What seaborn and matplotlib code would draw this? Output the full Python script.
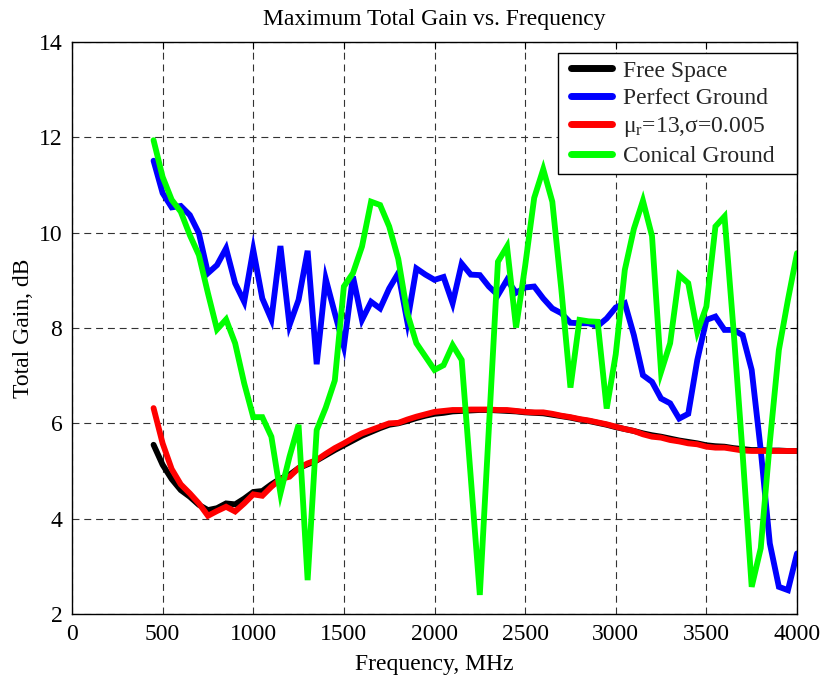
import matplotlib
matplotlib.use("Agg")
import matplotlib.pyplot as plt
from matplotlib.lines import Line2D
from matplotlib.legend_handler import HandlerLine2D
import numpy as np
import pandas as pd
import seaborn as sns

# ---------------- data ----------------
freq = [450, 500, 550, 600, 650, 700, 750, 800, 850, 900,
        950, 1000, 1050, 1100, 1150, 1200, 1250, 1300, 1350, 1400,
        1450, 1500, 1550, 1600, 1650, 1700, 1750, 1800, 1850, 1900,
        1950, 2000, 2050, 2100, 2150, 2200, 2250, 2300, 2350, 2400,
        2450, 2500, 2550, 2600, 2650, 2700, 2750, 2800, 2850, 2900,
        2950, 3000, 3050, 3100, 3150, 3200, 3250, 3300, 3350, 3400,
        3450, 3500, 3550, 3600, 3650, 3700, 3750, 3800, 3850, 3900,
        3950, 4000]

free_space = [5.55, 5.13, 4.83, 4.60, 4.46, 4.29, 4.18, 4.22, 4.32, 4.30,
              4.42, 4.56, 4.58, 4.72, 4.84, 4.92, 5.06, 5.14, 5.22, 5.33,
              5.44, 5.54, 5.64, 5.74, 5.82, 5.90, 5.97, 6.00, 6.05, 6.11,
              6.16, 6.20, 6.22, 6.25, 6.26, 6.27, 6.28, 6.28, 6.27, 6.26,
              6.25, 6.23, 6.22, 6.21, 6.18, 6.15, 6.12, 6.08, 6.05, 6.01,
              5.97, 5.92, 5.88, 5.84, 5.79, 5.75, 5.72, 5.68, 5.64, 5.61,
              5.58, 5.54, 5.52, 5.51, 5.48, 5.46, 5.44, 5.44, 5.43, 5.43,
              5.42, 5.42]

perfect_ground = [11.51, 10.83, 10.53, 10.56, 10.37, 9.99, 9.15, 9.32, 9.67, 8.94,
                  8.55, 9.64, 8.62, 8.18, 9.72, 8.06, 8.59, 9.62, 7.24, 9.03,
                  8.31, 7.61, 9.08, 8.17, 8.55, 8.41, 8.83, 9.15, 8.13, 9.25,
                  9.12, 9.01, 9.07, 8.52, 9.35, 9.12, 9.11, 8.87, 8.69, 9.01,
                  8.74, 8.85, 8.87, 8.62, 8.41, 8.31, 8.11, 8.10, 8.10, 8.04,
                  8.20, 8.43, 8.52, 7.85, 7.01, 6.87, 6.52, 6.42, 6.10, 6.20,
                  7.33, 8.17, 8.24, 7.96, 7.96, 7.85, 7.12, 5.44, 3.48, 2.57,
                  2.50, 3.27]

lossy_ground = [6.32, 5.58, 5.04, 4.72, 4.53, 4.32, 4.06, 4.16, 4.25, 4.15,
                4.32, 4.51, 4.48, 4.67, 4.83, 4.88, 5.06, 5.16, 5.23, 5.36,
                5.48, 5.58, 5.69, 5.79, 5.86, 5.93, 6.00, 6.01, 6.08, 6.14,
                6.19, 6.24, 6.26, 6.28, 6.28, 6.29, 6.29, 6.29, 6.28, 6.28,
                6.26, 6.24, 6.23, 6.23, 6.20, 6.16, 6.13, 6.09, 6.06, 6.02,
                5.98, 5.93, 5.88, 5.84, 5.77, 5.72, 5.70, 5.65, 5.62, 5.58,
                5.56, 5.51, 5.49, 5.49, 5.46, 5.43, 5.42, 5.42, 5.42, 5.42,
                5.42, 5.42]

conical_ground = [11.94, 11.17, 10.69, 10.44, 9.95, 9.53, 8.73, 7.97, 8.18, 7.68,
                  6.84, 6.13, 6.13, 5.72, 4.53, 5.30, 5.97, 2.71, 5.86, 6.33,
                  6.90, 8.87, 9.15, 9.71, 10.65, 10.58, 10.13, 9.45, 8.31, 7.68,
                  7.40, 7.12, 7.22, 7.64, 7.33, 4.87, 2.40, 5.90, 9.39, 9.71,
                  8.01, 9.30, 10.73, 11.33, 10.65, 8.80, 6.75, 8.17, 8.14, 8.13,
                  6.31, 7.45, 9.22, 10.08, 10.67, 9.93, 7.08, 7.68, 9.11, 8.94,
                  7.92, 8.45, 10.13, 10.34, 7.95, 5.36, 2.57, 3.38, 5.60, 7.54,
                  8.59, 9.57]

series_names = ["Free Space", "Perfect Ground",
                "μ$_\\mathrm{r}$=13,σ=0.005", "Conical Ground"]
series_values = [free_space, perfect_ground, lossy_ground, conical_ground]
series_colors = ["#000000", "#0000FF", "#FF0000", "#00FF00"]

x_ticks = [0, 500, 1000, 1500, 2000, 2500, 3000, 3500, 4000]
y_ticks = [2, 4, 6, 8, 10, 12, 14]

# ---------------- style ----------------
sns.set_theme(style="white")
plt.rcParams["font.family"] = ["Liberation Serif", "DejaVu Serif"]
plt.rcParams["mathtext.fontset"] = "custom"
plt.rcParams["mathtext.rm"] = "Liberation Serif"
plt.rcParams["mathtext.it"] = "Liberation Serif:italic"
plt.rcParams["lines.scale_dashes"] = False

FS = 17

fig = plt.figure(figsize=(8.23, 6.80), dpi=100)
W, H = 823, 680
AX_L, AX_R, AX_T, AX_B = 72, 797, 42, 614
ax = fig.add_axes([AX_L / W, 1 - AX_B / H, (AX_R - AX_L) / W, (AX_B - AX_T) / H])

for name, vals, col in zip(series_names, series_values, series_colors):
    df = pd.DataFrame({"freq": freq, "gain": vals})
    sns.lineplot(data=df, x="freq", y="gain", ax=ax, color=col,
                 linewidth=4.2, label=name, solid_joinstyle="miter")

ax.set_xlim(0, 4000)
ax.set_ylim(2, 14)
ax.set_xticks(x_ticks)
ax.set_yticks(y_ticks)
ax.set_xticklabels([str(t) for t in x_ticks])
ax.set_yticklabels([str(t) for t in y_ticks])

ax.grid(True, color="#333333", linestyle=(0, (5, 3.5)), linewidth=0.8)
ax.set_axisbelow(True)
ax.tick_params(direction="in", top=True, right=True, length=5, width=0.8,
               labelsize=FS, colors="black", pad=7)
for s in ax.spines.values():
    s.set_color("black")
    s.set_linewidth(1.0)

ax.set_title("Maximum Total Gain vs. Frequency", fontsize=FS, pad=12,
             color="black")
ax.set_xlabel("Frequency, MHz", fontsize=FS, color="black", labelpad=7)
ax.set_ylabel("Total Gain, dB", fontsize=FS, color="black", labelpad=3)

# legend box spanning x 558..797, top at y 53 (pixels)
aw, ah = AX_R - AX_L, AX_B - AX_T
leg_x0 = (558 - AX_L) / aw
leg_w = (797 - 558) / aw
leg_top = 1 - (53 - AX_T) / ah
leg = ax.legend(loc="upper left", bbox_to_anchor=(leg_x0, leg_top - 0.3, leg_w, 0.3),
                mode="expand", borderaxespad=0, fancybox=False, framealpha=1,
                edgecolor="black", fontsize=FS, handlelength=2.0,
                handletextpad=0.45, labelspacing=0.26, borderpad=0.3,
                handler_map={Line2D: HandlerLine2D(xpad=0.25)})
leg.get_frame().set_linewidth(1.0)
for line in leg.get_lines():
    line.set_linewidth(5)
    line.set_solid_capstyle("round")

fig.savefig("out.png", dpi=100)
